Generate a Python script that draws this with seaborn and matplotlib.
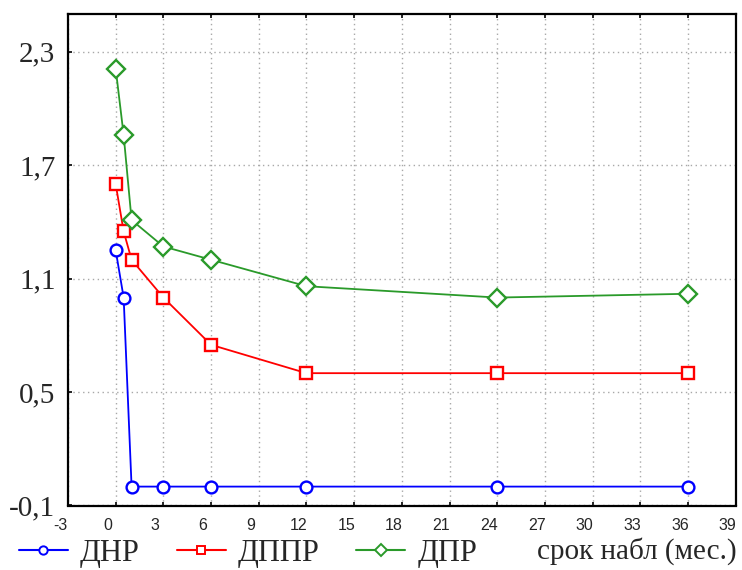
import matplotlib
matplotlib.use("Agg")
import matplotlib.pyplot as plt
import matplotlib.transforms as mtransforms
from matplotlib.lines import Line2D
import seaborn as sns
import pandas as pd

# Observation period, months
months = [0, 0.5, 1, 3, 6, 12, 24, 36]

# Series values
dnr = [1.25, 1.00, 0.00, 0.00, 0.00, 0.00, 0.00, 0.00]
dppr = [1.60, 1.35, 1.20, 1.00, 0.75, 0.60, 0.60, 0.60]
dpr = [2.21, 1.86, 1.41, 1.27, 1.20, 1.06, 1.00, 1.02]

series_names = ["ДНР", "ДППР", "ДПР"]
x_ticks = [-3, 0, 3, 6, 9, 12, 15, 18, 21, 24, 27, 30, 33, 36, 39]
y_ticks = [-0.1, 0.5, 1.1, 1.7, 2.3]
y_tick_labels = ["-0,1", "0,5", "1,1", "1,7", "2,3"]
x_label = "срок набл (мес.)"

sns.set_theme(style="white")
plt.rcParams["font.family"] = ["Liberation Serif", "DejaVu Serif"]

colors = ["#0000ff", "#ff0000", "#2a9a2a"]
markers = ["o", "s", "D"]
msizes = [8.5, 9, 9.5]

fig = plt.figure(figsize=(7.42, 5.70), dpi=100)
ax = fig.add_axes([68 / 742, 1 - 505.5 / 570, (735.7 - 68) / 742, (505.5 - 14) / 570])

df = pd.DataFrame({"months": months, "ДНР": dnr, "ДППР": dppr, "ДПР": dpr})
for name, c, m, ms in zip(series_names, colors, markers, msizes):
    sns.lineplot(data=df, x="months", y=name, ax=ax, color=c, marker=m,
                 markersize=ms, markerfacecolor="white", markeredgecolor=c,
                 markeredgewidth=1.7, linewidth=1.3, zorder=3)

ax.set_xlim(-3, 39)
ax.set_ylim(-0.1, 2.5)
ax.set_xticks(x_ticks)
ax.set_xticklabels([str(t) for t in x_ticks], family="Liberation Sans", fontsize=11.5)
ax.set_yticks(y_ticks)
ax.set_yticklabels(y_tick_labels, fontsize=21)
ax.set_xlabel("")
ax.set_ylabel("")

ax.grid(True, color="#a8a8a8", linestyle=(0, (1, 2.5)), linewidth=1.0)
ax.tick_params(axis="x", direction="in", length=3, width=1.2, color="black",
               top=True, bottom=True, pad=9)
ax.tick_params(axis="y", direction="in", length=3, width=1.2, color="black",
               left=True, pad=9)
for sp in ax.spines.values():
    sp.set_color("black")
    sp.set_linewidth(1.6)

# Shift x tick labels slightly to the left of their ticks
shift = mtransforms.ScaledTranslation(-0.08, 0, fig.dpi_scale_trans)
for lbl in ax.get_xticklabels():
    lbl.set_transform(lbl.get_transform() + shift)

handles = [Line2D([0], [0], color=c, marker=m, markersize=6, markerfacecolor="white",
                  markeredgecolor=c, markeredgewidth=1.4, linewidth=1.5)
           for c, m in zip(colors, markers)]
fig.legend(handles, series_names, loc="center left", ncol=3, frameon=False,
           bbox_to_anchor=(19 / 742, 1 - 553 / 570), borderpad=0, borderaxespad=0,
           handlelength=1.6, handletextpad=0.4, columnspacing=1.2,
           prop={"family": "Liberation Serif", "size": 22})

fig.text(737 / 742, 1 - 551 / 570, x_label, ha="right", va="center", fontsize=21)

fig.savefig("out.png", dpi=100, facecolor="white")
